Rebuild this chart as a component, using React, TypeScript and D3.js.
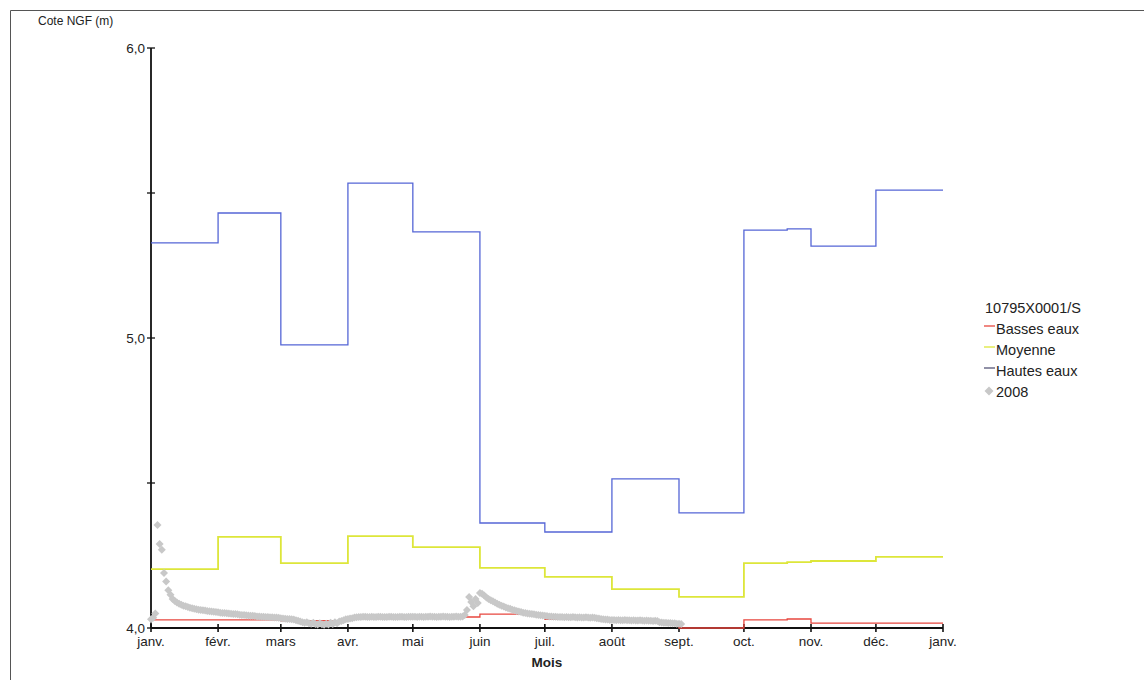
import React from 'react';
import * as d3 from 'd3';

// ---- Data ----
const monthTicks = ['2008-01-01','2008-02-01','2008-03-01','2008-04-01','2008-05-01','2008-06-01','2008-07-01','2008-08-01','2008-09-01','2008-10-01','2008-11-01','2008-12-01','2009-01-01'];
const monthLabels = ['janv.','févr.','mars','avr.','mai','juin','juil.','août','sept.','oct.','nov.','déc.','janv.'];
const yTicks = [4, 4.5, 5, 5.5, 6];
const yTickLabels = ['4,0', '', '5,0', '', '6,0'];

const stepDates = ['2008-01-01','2008-02-01','2008-03-01','2008-04-01','2008-05-01','2008-06-01','2008-07-01','2008-08-01','2008-09-01','2008-10-01','2008-10-21','2008-11-01','2008-12-01','2009-01-01'];
const bassesEaux = [4.028, 4.028, 4.025, 4.032, 4.038, 4.048, 4.030, 4.020, 4.0, 4.028, 4.031, 4.017, 4.017, 4.017];
const moyenne = [4.203, 4.314, 4.224, 4.317, 4.279, 4.207, 4.176, 4.134, 4.107, 4.224, 4.227, 4.231, 4.245, 4.245];
const hautesEaux = [5.328, 5.431, 4.976, 5.534, 5.366, 4.362, 4.331, 4.514, 4.397, 5.372, 5.376, 5.317, 5.510, 5.510];

// 2008 daily observations, starting 2008-01-01
const obsStart = '2008-01-01';
const obsJan = [4.03, 4.035, 4.05, 4.355, 4.29, 4.27, 4.19, 4.16, 4.13, 4.115, 4.1, 4.093, 4.088, 4.084, 4.08, 4.077, 4.075, 4.072, 4.07, 4.068, 4.066, 4.065, 4.063, 4.062, 4.061, 4.06, 4.059, 4.058, 4.057, 4.056, 4.055];
const obsFeb = [4.054, 4.053, 4.052, 4.052, 4.051, 4.05, 4.049, 4.048, 4.048, 4.047, 4.046, 4.045, 4.045, 4.044, 4.043, 4.042, 4.042, 4.041, 4.04, 4.04, 4.039, 4.039, 4.038, 4.038, 4.037, 4.037, 4.036, 4.036, 4.035];
const obsMar = [4.034, 4.033, 4.032, 4.031, 4.031, 4.03, 4.029, 4.027, 4.025, 4.022, 4.02, 4.018, 4.02, 4.016, 4.015, 4.018, 4.014, 4.012, 4.016, 4.013, 4.011, 4.015, 4.012, 4.018, 4.014, 4.02, 4.016, 4.022, 4.024, 4.027, 4.03];
const obsApr = [4.031, 4.033, 4.034, 4.036, 4.037, 4.038, 4.038, 4.039, 4.039, 4.038, 4.038, 4.039, 4.038, 4.038, 4.039, 4.039, 4.038, 4.038, 4.038, 4.039, 4.039, 4.038, 4.038, 4.038, 4.039, 4.039, 4.038, 4.038, 4.039, 4.039];
const obsMay = [4.039, 4.039, 4.038, 4.039, 4.039, 4.038, 4.039, 4.039, 4.04, 4.039, 4.039, 4.038, 4.039, 4.039, 4.04, 4.039, 4.039, 4.038, 4.039, 4.039, 4.04, 4.039, 4.039, 4.04, 4.045, 4.062, 4.107, 4.09, 4.075, 4.1, 4.086];
const obsJun = [4.121, 4.118, 4.112, 4.105, 4.1, 4.096, 4.092, 4.088, 4.084, 4.08, 4.077, 4.074, 4.071, 4.068, 4.066, 4.063, 4.061, 4.059, 4.057, 4.055, 4.053, 4.052, 4.05, 4.049, 4.048, 4.047, 4.046, 4.045, 4.044, 4.043];
const obsJul = [4.042, 4.041, 4.04, 4.04, 4.039, 4.039, 4.038, 4.038, 4.038, 4.037, 4.038, 4.037, 4.037, 4.038, 4.037, 4.036, 4.037, 4.036, 4.036, 4.037, 4.036, 4.035, 4.036, 4.035, 4.034, 4.033, 4.031, 4.03, 4.029, 4.029, 4.028];
const obsAug = [4.028, 4.028, 4.027, 4.028, 4.027, 4.027, 4.028, 4.027, 4.027, 4.026, 4.027, 4.026, 4.026, 4.027, 4.026, 4.025, 4.026, 4.025, 4.025, 4.024, 4.025, 4.024, 4.02, 4.019, 4.018, 4.018, 4.017, 4.017, 4.016, 4.016, 4.015];
const obsSep = [4.015, 4.014];

const legendTitle = '10795X0001/S';
const seriesNames = ['Basses eaux', 'Moyenne', 'Hautes eaux', '2008'];

// ---- Styling ----
const FONT = '"Liberation Sans", Arial, sans-serif';
const COL_RED = '#e8473f';
const COL_YEL = '#dde63a';
const COL_BLUE = '#5566d6';
const COL_GRAY = '#c8c8c8';

export default function App() {
  const parse = d3.timeParse('%Y-%m-%d');
  const x = d3.scaleTime().domain([parse('2008-01-01')!, parse('2009-01-01')!]).range([151, 943]);
  const y = d3.scaleLinear().domain([4, 6]).range([628, 48]);

  const steps = stepDates.map((d) => parse(d)!);
  const line = d3.line<[Date, number]>().x((d) => x(d[0])).y((d) => y(d[1])).curve(d3.curveStepAfter);
  const mk = (vals: number[]) => line(steps.map((d, i) => [d, vals[i]] as [Date, number])) || '';

  const start = parse(obsStart)!;
  const obs = [...obsJan, ...obsFeb, ...obsMar, ...obsApr, ...obsMay, ...obsJun, ...obsJul, ...obsAug, ...obsSep];
  const obsPts = obs.map((v, i) => ({ d: d3.timeDay.offset(start, i), v }));
  const diamond = 'M0,-4L4,0L0,4L-4,0Z';

  const ticks = monthTicks.map((d) => parse(d)!);

  const lx = 983;
  const ly0 = 308;
  const lstep = 21;

  return (
    <div style={{ position: 'fixed', left: 0, top: 0, width: 1144, height: 680, background: '#fff' }}>
      <svg width={1144} height={680} style={{ display: 'block' }} fontFamily={FONT}>
        <rect x={0} y={0} width={1144} height={680} fill="#fff" />
        {/* frame */}
        <line x1={10.5} y1={10.5} x2={1144} y2={10.5} stroke="#555" strokeWidth={1} />
        <line x1={10.5} y1={10.5} x2={10.5} y2={680} stroke="#555" strokeWidth={1} />

        {/* axis title */}
        <text x={38} y={25} fontSize={12} fill="#222">Cote NGF (m)</text>

        {/* y axis */}
        <line x1={151} y1={y(6)} x2={151} y2={y(4)} stroke="#111" strokeWidth={1.8} />
        {yTicks.map((t, i) => (
          <g key={'yt' + i}>
            <line x1={147} x2={155} y1={y(t)} y2={y(t)} stroke="#111" strokeWidth={1.3} />
            {yTickLabels[i] && (
              <text x={145} y={y(t)} dy="0.35em" textAnchor="end" fontSize={13.5} fill="#222">{yTickLabels[i]}</text>
            )}
          </g>
        ))}

        {/* x axis */}
        <line x1={151} y1={y(4)} x2={x(ticks[ticks.length - 1])} y2={y(4)} stroke="#111" strokeWidth={1.8} />
        {ticks.map((t, i) => (
          <g key={'xt' + i}>
            <line x1={x(t)} x2={x(t)} y1={y(4) - 4} y2={y(4) + 4} stroke="#111" strokeWidth={1.6} />
            <text x={x(t)} y={646} textAnchor="middle" fontSize={13.5} fill="#222">{monthLabels[i]}</text>
          </g>
        ))}
        <text x={547} y={667} textAnchor="middle" fontSize={13.5} fontWeight="bold" fill="#222">Mois</text>

        {/* series */}
        <path d={mk(bassesEaux)} fill="none" stroke={COL_RED} strokeWidth={1.3} />
        <path d={mk(moyenne)} fill="none" stroke={COL_YEL} strokeWidth={1.8} />
        <path d={mk(hautesEaux)} fill="none" stroke={COL_BLUE} strokeWidth={1.3} />
        {obsPts.map((p, i) => (
          <path key={'o' + i} d={diamond} transform={`translate(${x(p.d)},${y(p.v)})`} fill={COL_GRAY} />
        ))}

        {/* legend */}
        <text x={lx + 2} y={ly0} dy="0.35em" fontSize={14.5} fill="#222">{legendTitle}</text>
        {seriesNames.map((name, i) => {
          const yy = ly0 + lstep * (i + 1);
          const col = [COL_RED, COL_YEL, '#555577', COL_GRAY][i];
          return (
            <g key={'lg' + i}>
              {i < 3 ? (
                <line x1={lx + 1} x2={lx + 12} y1={yy - 3} y2={yy - 3} stroke={col} strokeWidth={1.3} />
              ) : (
                <path d="M0,-4.5L4.5,0L0,4.5L-4.5,0Z" transform={`translate(${lx + 6},${yy - 1})`} fill={col} />
              )}
              <text x={lx + 13} y={yy} dy="0.35em" fontSize={14.5} fill="#222">{name}</text>
            </g>
          );
        })}
      </svg>
    </div>
  );
}
